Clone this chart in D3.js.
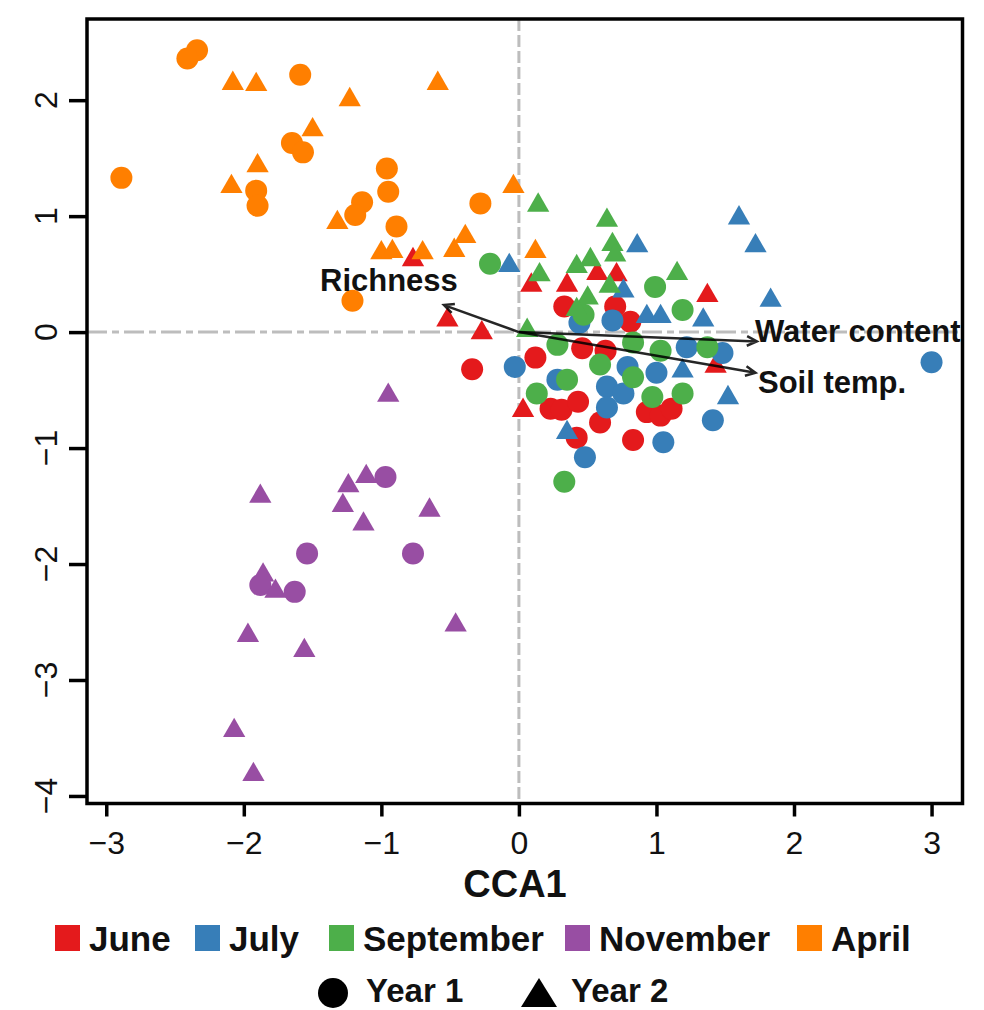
<!DOCTYPE html>
<html><head><meta charset="utf-8">
<script src="https://cdn.jsdelivr.net/npm/d3@7"></script>
<style>body{margin:0;background:#fff;} svg{display:block;font-family:"Liberation Sans",Arial,sans-serif;}</style>
</head><body><svg id="c" width="984" height="1010"></svg>
<script>
// ---------------- DATA ----------------
const months = ["June", "July", "September", "November", "April"];
const years = ["Year 1", "Year 2"];
const xTicks = [-3, -2, -1, 0, 1, 2, 3];
const yTicks = [2, 1, 0, -1, -2, -3, -4];
const xTitle = "CCA1";

// site scores [CCA1, CCA2]
const juneYear1 = [[-0.34,-0.32],[0.33,0.22],[0.70,0.22],[0.81,0.09],[0.12,-0.22],[0.46,-0.14],[0.63,-0.16],[0.23,-0.66],[0.31,-0.67],[0.43,-0.60],[0.59,-0.78],[0.42,-0.91],[0.83,-0.93],[0.93,-0.69],[1.03,-0.72],[1.11,-0.66]];
const juneYear2 = [[-0.52,0.13],[-0.27,0.02],[-0.77,0.65],[0.09,0.43],[0.35,0.43],[0.57,0.53],[0.71,0.52],[1.37,0.34],[0.03,-0.65],[1.43,-0.27]];
const julyYear1 = [[-0.03,-0.30],[0.28,-0.41],[0.64,-0.47],[0.64,-0.65],[0.76,-0.53],[0.79,-0.30],[1.00,-0.35],[0.48,-1.08],[1.05,-0.95],[1.41,-0.76],[1.48,-0.18],[3.00,-0.26],[0.44,0.08],[0.68,0.10],[1.22,-0.13]];
const julyYear2 = [[1.60,1.01],[1.72,0.77],[1.83,0.30],[1.52,-0.54],[0.86,0.77],[-0.07,0.60],[0.93,0.16],[1.03,0.16],[1.34,0.13],[0.35,-0.84],[1.19,-0.31],[0.76,0.38]];
const septemberYear1 = [[-0.21,0.59],[0.33,-1.29],[0.99,0.39],[1.19,0.19],[0.28,-0.11],[0.59,-0.28],[0.35,-0.41],[0.13,-0.53],[0.83,-0.39],[0.97,-0.56],[1.19,-0.53],[1.37,-0.13],[1.03,-0.16],[0.83,-0.09],[0.47,0.15]];
const septemberYear2 = [[0.14,1.12],[0.64,0.99],[0.68,0.78],[0.70,0.69],[0.42,0.59],[0.52,0.65],[0.15,0.52],[1.15,0.53],[0.66,0.42],[0.50,0.32],[0.06,0.04],[0.42,0.22]];
const novemberYear1 = [[-0.97,-1.25],[-1.54,-1.91],[-0.77,-1.91],[-1.88,-2.18],[-1.63,-2.24]];
const novemberYear2 = [[-0.95,-0.52],[-1.88,-1.39],[-1.24,-1.30],[-1.11,-1.22],[-1.28,-1.47],[-1.13,-1.63],[-0.65,-1.51],[-1.86,-2.07],[-1.77,-2.21],[-1.97,-2.59],[-1.56,-2.72],[-0.46,-2.50],[-2.07,-3.41],[-1.93,-3.79]];
const aprilYear1 = [[-2.34,2.43],[-2.41,2.36],[-1.59,2.22],[-1.65,1.63],[-1.57,1.55],[-2.89,1.33],[-1.91,1.22],[-1.90,1.09],[-0.96,1.41],[-0.95,1.21],[-1.14,1.12],[-1.19,1.01],[-0.89,0.91],[-0.28,1.11],[-1.21,0.27]];
const aprilYear2 = [[-2.08,2.17],[-1.91,2.16],[-1.23,2.03],[-0.59,2.17],[-1.50,1.77],[-1.90,1.46],[-2.09,1.28],[-1.32,0.97],[-1.00,0.71],[-0.92,0.72],[-0.70,0.71],[-0.47,0.73],[-0.39,0.85],[-0.04,1.28],[0.12,0.72]];

// environmental vectors
const vectorNames = ["Richness", "Water content", "Soil temp."];
const vectorEnds = [[-0.545, 0.233], [1.73, -0.08], [1.72, -0.35]];

// ---------------- STYLE / LAYOUT ----------------
const monthColors = ["#E41A1C", "#377EB8", "#4DAF4A", "#984EA3", "#FF7F00"];
const seriesY1 = [juneYear1, julyYear1, septemberYear1, novemberYear1, aprilYear1];
const seriesY2 = [juneYear2, julyYear2, septemberYear2, novemberYear2, aprilYear2];

const svg = d3.select("#c");
const L = 87, R = 962.5, T = 19, B = 803.5;
const x = d3.scaleLinear().domain([-3.14, 3.225]).range([L, R]);
const y = d3.scaleLinear().domain([-4.065, 2.70]).range([B, T]);
const fmt = d3.format("d");

// reference lines
svg.append("line").attr("x1", x(0)).attr("x2", x(0)).attr("y1", T).attr("y2", B)
  .attr("stroke", "#bdbdbd").attr("stroke-width", 3).attr("stroke-dasharray", "12,4");
svg.append("line").attr("x1", L).attr("x2", R).attr("y1", y(0)).attr("y2", y(0))
  .attr("stroke", "#bdbdbd").attr("stroke-width", 3).attr("stroke-dasharray", "20,5,7,5");

// points
const plot = svg.append("g");
const triPath = d3.symbol().type(d3.symbolTriangle).size(215)();
months.forEach((m, i) => {
  plot.append("g").selectAll("circle").data(seriesY1[i]).join("circle")
    .attr("cx", d => x(d[0])).attr("cy", d => y(d[1])).attr("r", 11)
    .attr("fill", monthColors[i]);
  plot.append("g").selectAll("path").data(seriesY2[i]).join("path")
    .attr("d", triPath)
    .attr("transform", d => `translate(${x(d[0])},${y(d[1]) + 3})`)
    .attr("fill", monthColors[i]);
});

// arrows
const arrows = svg.append("g");
vectorEnds.forEach((v, i) => {
  const x0 = x(0), y0 = y(0), x1 = x(v[0]), y1 = y(v[1]);
  const ang = Math.atan2(y1 - y0, x1 - x0);
  const len = 11, spread = Math.PI / 7;
  arrows.append("path")
    .attr("d", `M${x0},${y0}L${x1},${y1}M${x1 - len * Math.cos(ang - spread)},${y1 - len * Math.sin(ang - spread)}L${x1},${y1}L${x1 - len * Math.cos(ang + spread)},${y1 - len * Math.sin(ang + spread)}`)
    .attr("fill", "none").attr("stroke", "#000").attr("stroke-width", 2.5).attr("opacity", 0.85);
});
const labelPos = [[320, 291, "start"], [755, 342, "start"], [758, 393, "start"]];
vectorNames.forEach((n, i) => {
  svg.append("text").attr("x", labelPos[i][0]).attr("y", labelPos[i][1])
    .attr("text-anchor", labelPos[i][2]).attr("font-size", 31).attr("font-weight", "bold")
    .attr("fill", "#111").text(n);
});

// frame
svg.append("rect").attr("x", L).attr("y", T).attr("width", R - L).attr("height", B - T)
  .attr("fill", "none").attr("stroke", "#000").attr("stroke-width", 3.5);

// x axis
const xa = svg.append("g").attr("transform", `translate(0,${B})`)
  .call(d3.axisBottom(x).tickValues(xTicks).tickSize(13).tickPadding(15).tickFormat(d => d < 0 ? "\u2212" + Math.abs(d) : fmt(d)));
xa.select(".domain").remove();
xa.selectAll(".tick line").attr("stroke", "#000").attr("stroke-width", 3.5);
xa.selectAll("text").attr("font-size", 32).attr("fill", "#111").attr("font-family", "Liberation Sans, Arial, sans-serif");

// y axis
const ya = svg.append("g").attr("transform", `translate(${L},0)`)
  .call(d3.axisLeft(y).tickValues(yTicks).tickSize(18).tickFormat(""));
ya.select(".domain").remove();
ya.selectAll(".tick line").attr("stroke", "#000").attr("stroke-width", 3.5);
svg.append("g").selectAll("text").data(yTicks).join("text")
  .attr("transform", d => `translate(46,${y(d)}) rotate(-90)`)
  .attr("text-anchor", "middle").attr("dominant-baseline", "central")
  .attr("font-size", 32).attr("fill", "#111")
  .text(d => d < 0 ? "\u2212" + Math.abs(d) : fmt(d));

// x title
svg.append("text").attr("x", 515).attr("y", 897).attr("text-anchor", "middle")
  .attr("font-size", 38).attr("font-weight", "bold").attr("fill", "#111").text(xTitle);

// legend row 1 (months)
const legX = [55, 195, 329, 565, 797];
const leg = svg.append("g");
months.forEach((m, i) => {
  leg.append("rect").attr("x", legX[i]).attr("y", 925).attr("width", 25).attr("height", 26).attr("fill", monthColors[i]);
  leg.append("text").attr("x", legX[i] + 34).attr("y", 951).attr("font-size", 35).attr("font-weight", "bold")
    .attr("fill", "#111").text(m);
});
// legend row 2 (years)
leg.append("circle").attr("cx", 333).attr("cy", 993).attr("r", 15).attr("fill", "#000");
leg.append("text").attr("x", 366).attr("y", 1002).attr("font-size", 33).attr("font-weight", "bold").attr("fill", "#111").text(years[0]);
leg.append("path").attr("d", "M539,978L557,1007L521,1007Z").attr("fill", "#000");
leg.append("text").attr("x", 571).attr("y", 1002).attr("font-size", 33).attr("font-weight", "bold").attr("fill", "#111").text(years[1]);
</script></body></html>
